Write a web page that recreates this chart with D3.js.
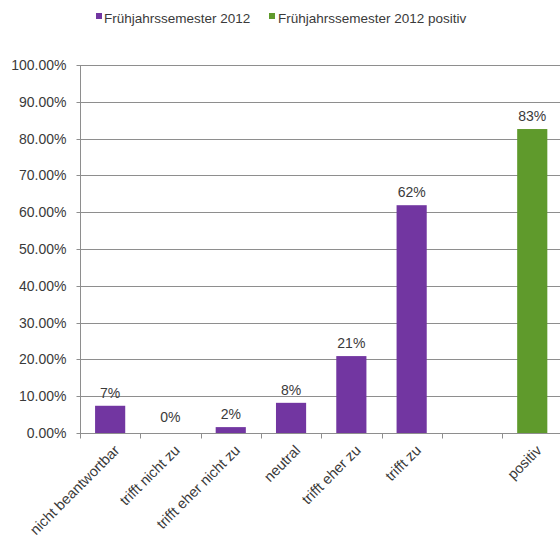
<!DOCTYPE html>
<html>
<head>
<meta charset="utf-8">
<script src="https://cdn.jsdelivr.net/npm/d3@7"></script>
<style>
  html, body { margin: 0; padding: 0; background: #fff; }
  svg { display: block; font-family: "Liberation Sans", Arial, sans-serif; }
</style>
</head>
<body>
<svg id="chart" width="560" height="537"></svg>
<script>
// Survey answers; the empty slot keeps a gap before the "positiv" summary bar.
const categories = ["nicht beantwortbar", "trifft nicht zu", "trifft eher nicht zu", "neutral", "trifft eher zu", "trifft zu", "", "positiv"];
const semesterValues = [0.074, 0, 0.016, 0.082, 0.209, 0.619, null, null];
const positiveValues = [null, null, null, null, null, null, null, 0.826];
const seriesNames = ["Frühjahrssemester 2012", "Frühjahrssemester 2012 positiv"];
const seriesColors = ["#7236a1", "#5f9a2c"];
const yTicks = [0, 0.1, 0.2, 0.3, 0.4, 0.5, 0.6, 0.7, 0.8, 0.9, 1.0];

const svg = d3.select("#chart");
const W = 560;
const plot = { left: 80, top: 65, bottom: 433 };
const textColor = "#3a3a3a";
const gridColor = "#8e8e8e";

const x = d3.scaleBand()
  .domain(d3.range(categories.length))
  .range([plot.left, plot.left + 482.4])
  .paddingInner(0.5)
  .paddingOuter(0.25);

const y = d3.scaleLinear().domain([0, 1]).range([plot.bottom, plot.top]);

// Horizontal gridlines
svg.append("g")
  .selectAll("line")
  .data(yTicks.slice(1))
  .join("line")
  .attr("x1", plot.left).attr("x2", W)
  .attr("y1", d => Math.round(y(d)) + 0.5).attr("y2", d => Math.round(y(d)) + 0.5)
  .attr("stroke", gridColor).attr("stroke-width", 1);

// Y axis with outward ticks
const yAxis = d3.axisLeft(y)
  .tickValues(yTicks)
  .tickFormat(d3.format(".2%"))
  .tickSize(4)
  .tickPadding(10);
const gy = svg.append("g")
  .attr("transform", `translate(${plot.left + 0.5},0)`)
  .call(yAxis);
gy.select(".domain").attr("stroke", gridColor).attr("d", `M0,${plot.top}V${plot.bottom}`);
gy.selectAll(".tick line").attr("stroke", gridColor);
gy.selectAll(".tick text")
  .attr("fill", textColor)
  .attr("font-size", 14)
  .attr("font-family", "Liberation Sans, Arial, sans-serif");
gy.selectAll(".tick").attr("transform", d => `translate(0,${Math.round(y(d)) + 0.5})`);

// Category axis baseline with ticks between slots
const step = x.step();
const base = Math.round(y(0)) + 0.5;
svg.append("line")
  .attr("x1", plot.left).attr("x2", W)
  .attr("y1", base).attr("y2", base)
  .attr("stroke", gridColor);
svg.append("g")
  .selectAll("line")
  .data(d3.range(categories.length))
  .join("line")
  .attr("x1", i => Math.round(plot.left + i * step) + 0.5)
  .attr("x2", i => Math.round(plot.left + i * step) + 0.5)
  .attr("y1", base).attr("y2", base + 5)
  .attr("stroke", gridColor);

// Bars for both series
const seriesList = [semesterValues, positiveValues];
seriesList.forEach((vals, s) => {
  const items = vals.map((v, i) => ({ v, i })).filter(d => d.v !== null);
  svg.append("g")
    .selectAll("rect")
    .data(items)
    .join("rect")
    .attr("x", d => x(d.i))
    .attr("width", x.bandwidth())
    .attr("y", d => y(d.v))
    .attr("height", d => y(0) - y(d.v))
    .attr("fill", seriesColors[s]);

  svg.append("g")
    .selectAll("text")
    .data(items)
    .join("text")
    .attr("x", d => x(d.i) + x.bandwidth() / 2)
    .attr("y", d => y(d.v) - (d.v === 0 ? 11 : 8))
    .attr("text-anchor", "middle")
    .attr("font-size", 14)
    .attr("fill", textColor)
    .text(d => d3.format(".0%")(d.v));
});

// Rotated category labels
svg.append("g")
  .selectAll("text")
  .data(categories.map((c, i) => ({ c, i })).filter(d => d.c !== ""))
  .join("text")
  .attr("transform", d => `translate(${x(d.i) + x.bandwidth() / 2 + 3},${plot.bottom + 11}) rotate(-45)`)
  .attr("text-anchor", "end")
  .attr("dy", "0.71em")
  .attr("font-size", 14.5)
  .attr("fill", textColor)
  .text(d => d.c);

// Legend
const legend = svg.append("g");
const legendItems = [{ x: 96, tx: 104 }, { x: 269, tx: 278 }];
legendItems.forEach((p, s) => {
  legend.append("rect")
    .attr("x", p.x).attr("y", 13).attr("width", 6).attr("height", 6)
    .attr("fill", seriesColors[s]);
  legend.append("text")
    .attr("x", p.tx).attr("y", 23)
    .attr("font-size", 13.5)
    .attr("fill", textColor)
    .text(seriesNames[s]);
});
</script>
</body>
</html>
